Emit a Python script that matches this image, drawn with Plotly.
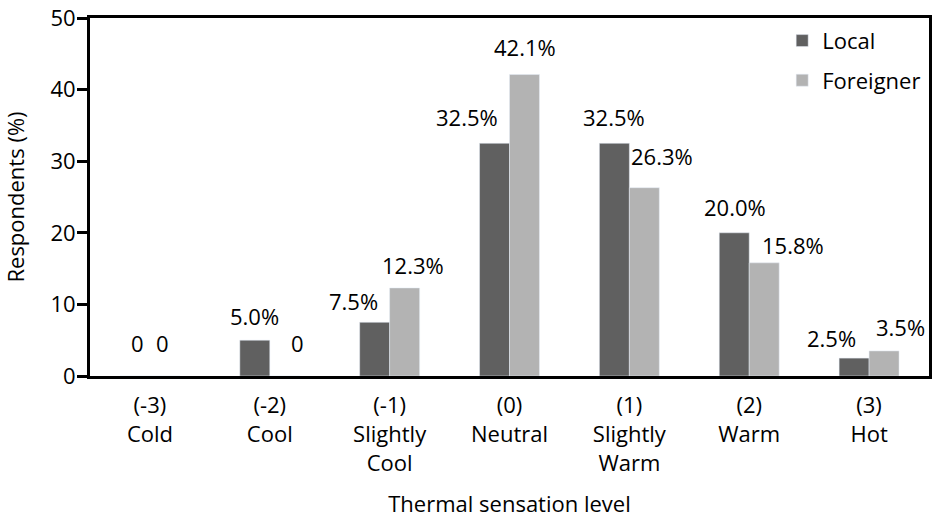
import plotly.graph_objects as go

# Survey results: share of respondents per thermal sensation vote
categories = ["(-3)<br>Cold", "(-2)<br>Cool", "(-1)<br>Slightly<br>Cool", "(0)<br>Neutral",
              "(1)<br>Slightly<br>Warm", "(2)<br>Warm", "(3)<br>Hot"]
local_pct = [0.0, 5.0, 7.5, 32.5, 32.5, 20.0, 2.5]
foreigner_pct = [0.0, 0.0, 12.3, 42.1, 26.3, 15.8, 3.5]

# Per-label nudges (pixels) so the value labels do not collide
local_dx = [3, 0, -21, -28, 0, 1, -23]
local_dy = [33, 24, 21, 26, 26, 26, 20]
foreign_dx = [-2, 13, 8, 0, 18, 29, 16]
foreign_dy = [33, 33, 23, 28, 32, 18, 24]

FONT = "Open Sans"
FS = 22
DARK = "#606060"
LIGHT = "#b3b3b3"
BAR_HALF = 15  # half of a bar's pixel width, used to centre labels on bars


def fmt(v):
    return "0" if v == 0 else f"{v:.1f}%"


fig = go.Figure()
fig.add_trace(go.Bar(x=categories, y=local_pct, name="Local", marker_color=DARK,
                     legendgroup="a"))
fig.add_trace(go.Bar(x=categories, y=foreigner_pct, name="Foreigner", marker_color=LIGHT,
                     legendgroup="b"))

annotations = []
for i, cat in enumerate(categories):
    annotations.append(dict(x=cat, y=local_pct[i], text=fmt(local_pct[i]), showarrow=False,
                            xshift=-BAR_HALF + local_dx[i], yshift=local_dy[i],
                            font=dict(family=FONT, size=FS, color="black")))
    annotations.append(dict(x=cat, y=foreigner_pct[i], text=fmt(foreigner_pct[i]), showarrow=False,
                            xshift=BAR_HALF + foreign_dx[i], yshift=foreign_dy[i],
                            font=dict(family=FONT, size=FS, color="black")))

fig.update_layout(
    width=937, height=525,
    margin=dict(l=90, r=8, t=18, b=149, autoexpand=False),
    plot_bgcolor="white", paper_bgcolor="white",
    font=dict(family=FONT, size=FS, color="black"),
    barmode="group", bargap=0.5, bargroupgap=0,
    annotations=annotations,
    legend=dict(x=0.825, y=0.995, xanchor="left", yanchor="top",
                bgcolor="rgba(0,0,0,0)", tracegroupgap=8,
                font=dict(family=FONT, size=FS)),
    xaxis=dict(showline=True, linecolor="black", linewidth=3, mirror=True,
               ticks="", showgrid=False, ticklabelstandoff=8, automargin=False,
               tickfont=dict(family=FONT, size=FS),
               title=dict(text="Thermal sensation level", standoff=22,
                          font=dict(family=FONT, size=FS))),
    yaxis=dict(range=[0, 50], dtick=10, showline=True, linecolor="black", linewidth=3,
               mirror=True, ticks="outside", ticklen=10, tickwidth=3, tickcolor="black",
               showgrid=False, zeroline=False, ticklabelstandoff=-3, automargin=False,
               tickfont=dict(family=FONT, size=FS),
               title=dict(text="Respondents (%)", standoff=20,
                          font=dict(family=FONT, size=FS))),
)

fig.write_html("out.html")
